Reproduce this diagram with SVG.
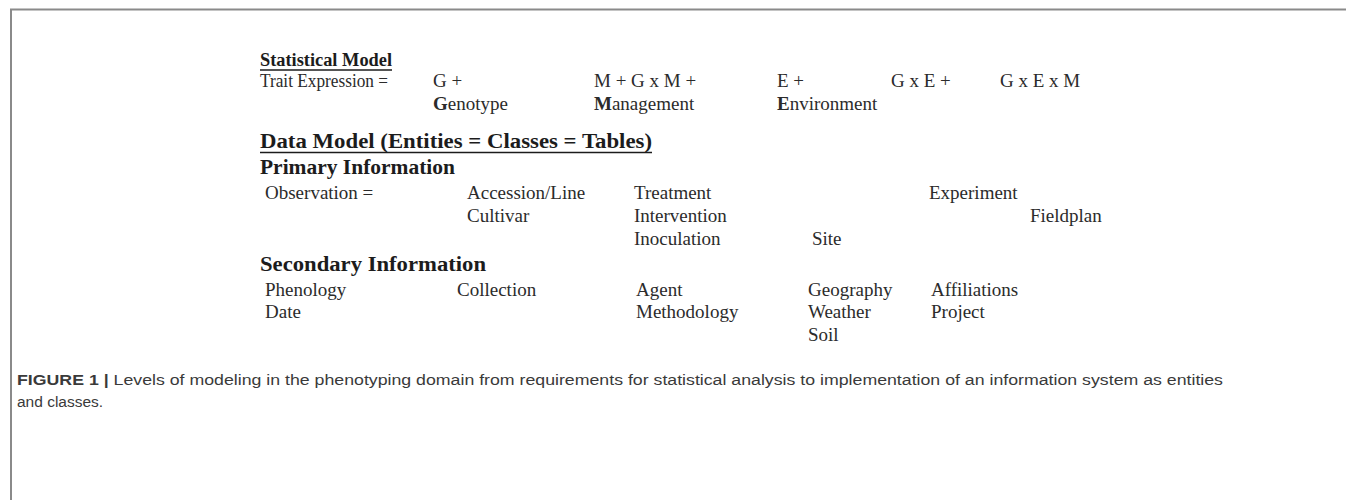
<svg xmlns="http://www.w3.org/2000/svg" width="1346" height="500" viewBox="0 0 1346 500">
<style>
.t{font-family:"Liberation Serif","Times New Roman",serif;font-size:19px;fill:#2b2b2b}
.s{font-family:"Liberation Serif","Times New Roman",serif;font-size:18.5px;font-weight:bold;fill:#1c1c1c}
.b{font-family:"Liberation Serif","Times New Roman",serif;font-size:20.5px;font-weight:bold;fill:#1c1c1c}
.c{font-family:"Liberation Sans",Arial,sans-serif;font-size:15.5px;fill:#3a3a3a}
.u{stroke:#1c1c1c;stroke-width:1.6}
.f{stroke:#8a8a8a;stroke-width:2;fill:none}
</style>
<rect width="1346" height="500" fill="#fff"/>
<path class="f" d="M11,500 V9.5 H1346"/>
<g id="statistical-model">
<text class="s" x="260" y="66" textLength="132" lengthAdjust="spacingAndGlyphs">Statistical Model</text>
<line class="u" x1="260" y1="70" x2="392" y2="70"/>
<text class="t" x="260" y="87" textLength="128" lengthAdjust="spacingAndGlyphs">Trait Expression =</text>
<text class="t" x="433" y="87">G +</text>
<text class="t" x="594" y="87">M + G x M +</text>
<text class="t" x="777" y="87">E +</text>
<text class="t" x="891" y="87">G x E +</text>
<text class="t" x="1000" y="87">G x E x M</text>
<text class="t" x="433" y="110"><tspan font-weight="bold">G</tspan>enotype</text>
<text class="t" x="594" y="110"><tspan font-weight="bold">M</tspan>anagement</text>
<text class="t" x="777" y="110"><tspan font-weight="bold">E</tspan>nvironment</text>
</g>
<g id="data-model">
<text class="b" x="260" y="148" textLength="392" lengthAdjust="spacingAndGlyphs">Data Model (Entities = Classes = Tables)</text>
<line class="u" x1="260" y1="152.5" x2="652" y2="152.5"/>
</g>
<g id="primary-information">
<text class="b" x="260" y="174" textLength="195" lengthAdjust="spacingAndGlyphs">Primary Information</text>
<text class="t" x="265" y="199">Observation =</text>
<text class="t" x="467" y="199">Accession/Line</text>
<text class="t" x="634" y="199">Treatment</text>
<text class="t" x="929" y="199">Experiment</text>
<text class="t" x="467" y="222">Cultivar</text>
<text class="t" x="634" y="222">Intervention</text>
<text class="t" x="1030" y="222">Fieldplan</text>
<text class="t" x="634" y="245">Inoculation</text>
<text class="t" x="812" y="245">Site</text>
</g>
<g id="secondary-information">
<text class="b" x="260" y="271" textLength="226" lengthAdjust="spacingAndGlyphs">Secondary Information</text>
<text class="t" x="265" y="296">Phenology</text>
<text class="t" x="457" y="296">Collection</text>
<text class="t" x="636" y="296">Agent</text>
<text class="t" x="808" y="296">Geography</text>
<text class="t" x="931" y="296">Affiliations</text>
<text class="t" x="265" y="318">Date</text>
<text class="t" x="636" y="318">Methodology</text>
<text class="t" x="808" y="318">Weather</text>
<text class="t" x="931" y="318">Project</text>
<text class="t" x="808" y="341">Soil</text>
</g>
<g id="caption">
<text class="c" x="17" y="385" textLength="1206" lengthAdjust="spacingAndGlyphs"><tspan font-weight="bold">FIGURE 1</tspan> <tspan font-weight="bold">|</tspan> Levels of modeling in the phenotyping domain from requirements for statistical analysis to implementation of an information system as entities</text>
<text class="c" x="17" y="407">and classes.</text>
</g>
</svg>
